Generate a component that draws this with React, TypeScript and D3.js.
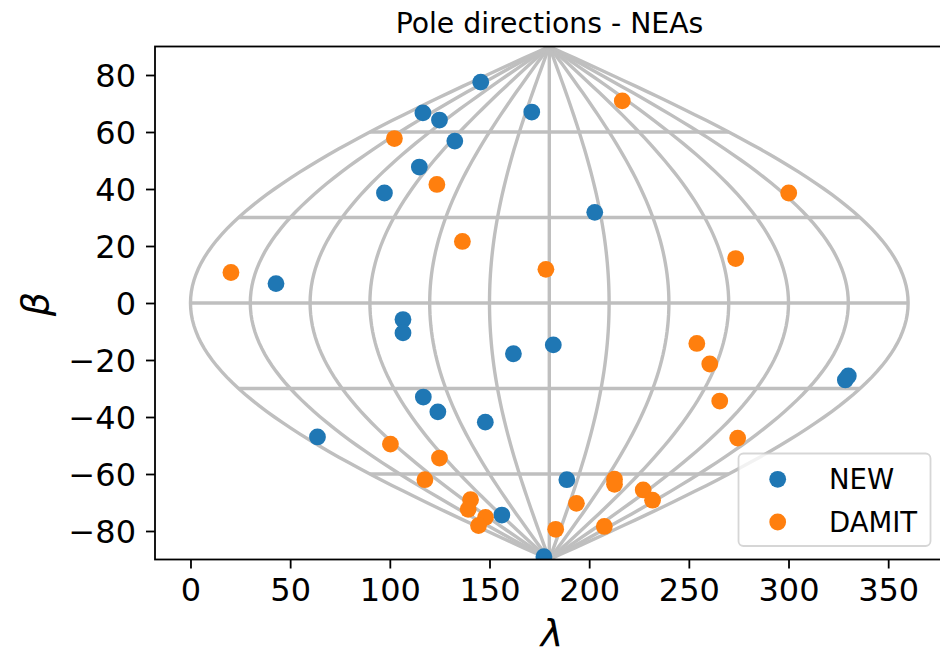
import React, { useEffect, useRef } from "react"
import * as d3 from "d3"

const newLambda = [145.6, 171.2, 116.6, 124.9, 132.6, 114.8, 97.3, 202.8, 42.9, 106.6, 106.6, 162, 182, 330, 328.5, 116.8, 124.1, 147.9, 63.7, 188.8, 156.2, 177.3]
const newBeta = [77.5, 67, 66.7, 64.2, 56.8, 47.7, 38.6, 31.8, 6.8, -5.8, -10.5, -17.8, -14.7, -25.6, -27, -33, -38.2, -41.8, -47, -62, -74.4, -89]

const damitLambda = [216.6, 102.3, 123.6, 300.1, 136.4, 178.3, 273.5, 20.3, 254, 260.5, 265.5, 274.5, 100.3, 124.9, 117.6, 140.5, 139.3, 148, 144.5, 183.2, 193.6, 207.6, 212.7, 212.7, 227.1, 231.8]
const damitBeta = [70.9, 57.7, 41.6, 38.6, 21.6, 11.8, 15.6, 10.7, -14.2, -21.4, -34.4, -47.4, -49.5, -54.4, -62, -69, -72.4, -75.2, -78.1, -79.4, -70.3, -78.4, -61.8, -63.6, -65.6, -69.2]

const gridLongitudes = [0, 30, 60, 90, 120, 150, 180, 210, 240, 270, 300, 330, 360]
const gridLatitudes = [-60, -30, 0, 30, 60]
const xTicks = [0, 50, 100, 150, 200, 250, 300, 350]
const yTicks = [-80, -60, -40, -20, 0, 20, 40, 60, 80]
const legendLabels = ["NEW", "DAMIT"]
const BLUE = "#1f77b4"
const ORANGE = "#ff7f0e"
const GRID = "#bfbfbf"

const toRad = Math.PI / 180
// sinusoidal projection centred on 180
const sinusoidal = (lon: number, lat: number): [number, number] => [180 + (lon - 180) * Math.cos(lat * toRad), lat]

function App() {
  const ref = useRef<SVGSVGElement>(null)

  useEffect(() => {
    const svg = d3.select(ref.current)
    svg.selectAll("*").remove()

    const x = d3.scaleLinear().domain([-17.8, 378]).range([155, 944])
    const y = d3.scaleLinear().domain([-90, 90]).range([559.5, 46.5])
    const font = "'DejaVu Sans', sans-serif"

    svg.append("defs").append("clipPath").attr("id", "plot")
      .append("rect").attr("x", 155).attr("y", 46.5).attr("width", 789).attr("height", 513)

    const plot = svg.append("g").attr("clip-path", "url(#plot)")
    const line = d3.line<[number, number]>().x(d => x(d[0])).y(d => y(d[1]))
    const lats = d3.range(-90, 90.5, 2)

    gridLongitudes.forEach(lon => {
      plot.append("path").attr("d", line(lats.map(lat => sinusoidal(lon, lat))))
        .attr("fill", "none").attr("stroke", GRID).attr("stroke-width", 3.4)
    })
    gridLatitudes.forEach(lat => {
      plot.append("path").attr("d", line([sinusoidal(0, lat), sinusoidal(360, lat)]))
        .attr("fill", "none").attr("stroke", GRID).attr("stroke-width", 3.4)
    })

    const dots = (lam: number[], bet: number[], color: string) => {
      plot.append("g").selectAll("circle").data(lam).enter().append("circle")
        .attr("cx", d => x(d))
        .attr("cy", (_, i) => y(bet[i]))
        .attr("r", 8.4)
        .attr("fill", color)
    }
    dots(newLambda, newBeta, BLUE)
    dots(damitLambda, damitBeta, ORANGE)

    const xAxis = d3.axisBottom(x).tickValues(xTicks).tickSize(9).tickSizeOuter(0).tickPadding(10)
    const yAxis = d3.axisLeft(y).tickValues(yTicks).tickSize(9).tickSizeOuter(0).tickPadding(10)
    const gx = svg.append("g").attr("transform", "translate(0,559.5)").call(xAxis)
    const gy = svg.append("g").attr("transform", "translate(155,0)").call(yAxis)
    ;[gx, gy].forEach(g => {
      g.selectAll(".domain").remove()
      g.selectAll("line").attr("stroke", "#000").attr("stroke-width", 1.8)
      g.selectAll("text").attr("fill", "#000").style("font-family", font).style("font-size", "32px")
    })
    gy.selectAll("text").attr("dy", "0.36em")

    svg.append("rect").attr("x", 155).attr("y", 46.5).attr("width", 789).attr("height", 513)
      .attr("fill", "none").attr("stroke", "#000").attr("stroke-width", 1.8)

    svg.append("text").attr("x", 549.5).attr("y", 32.5).attr("text-anchor", "middle")
      .style("font-family", font).style("font-size", "28.3px").text("Pole directions - NEAs")

    svg.append("text").attr("x", 552).attr("y", 646).attr("text-anchor", "middle")
      .style("font-family", font).style("font-style", "italic").style("font-size", "38px").text("λ")
    svg.append("text").attr("transform", "translate(48,304) rotate(-90)").attr("text-anchor", "middle")
      .style("font-family", font).style("font-style", "italic").style("font-size", "38px").text("β")

    const legend = svg.append("g")
    legend.append("rect").attr("x", 738.5).attr("y", 453.5).attr("width", 192).attr("height", 92.5).attr("rx", 5)
      .attr("fill", "#fff").attr("fill-opacity", 0.8).attr("stroke", "#ccc").attr("stroke-opacity", 0.8).attr("stroke-width", 1.8)
    legendLabels.forEach((label, i) => {
      const my = 479.3 + i * 42.7
      legend.append("circle").attr("cx", 777.7).attr("cy", my).attr("r", 8.4).attr("fill", i === 0 ? BLUE : ORANGE)
      legend.append("text").attr("x", 829).attr("y", my + 9.5)
        .style("font-family", font).style("font-size", "27.5px").text(label)
    })
  }, [])

  return <svg ref={ref} width={940} height={649} style={{ position: "absolute", left: 0, top: 0, background: "#fff" }} />
}

export default App
